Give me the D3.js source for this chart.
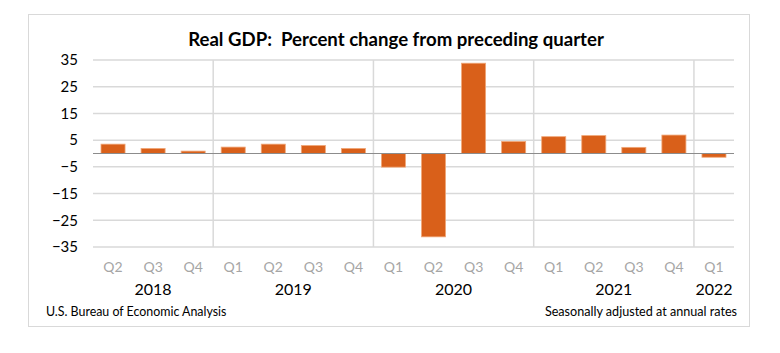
<!DOCTYPE html>
<html>
<head>
<meta charset="utf-8">
<script src="https://cdn.jsdelivr.net/npm/d3@7"></script>
<style>
  body { margin: 0; background: #fff; }
  svg { display: block; font-family: Lato, "Open Sans", sans-serif; }
</style>
</head>
<body>
<div id="chart"></div>
<script>
// Quarterly data
const quarters = ["Q2", "Q3", "Q4", "Q1", "Q2", "Q3", "Q4", "Q1", "Q2", "Q3", "Q4", "Q1", "Q2", "Q3", "Q4", "Q1"];
const years = ["2018", "2018", "2018", "2019", "2019", "2019", "2019", "2020", "2020", "2020", "2020", "2021", "2021", "2021", "2021", "2022"];
const growth = [3.5, 1.9, 0.9, 2.4, 3.5, 3.0, 1.9, -5.1, -31.2, 33.8, 4.5, 6.3, 6.7, 2.3, 6.9, -1.4];
const yTicks = [-35, -25, -15, -5, 5, 15, 25, 35];

const width = 780;
const height = 353;
const plot = { left: 93, right: 734, top: 60, bottom: 247 };

const svg = d3.select("#chart").append("svg")
  .attr("width", width)
  .attr("height", height);

svg.append("rect")
  .attr("x", 28.5).attr("y", 14.5)
  .attr("width", 721).attr("height", 312)
  .attr("fill", "#fff")
  .attr("stroke", "#d9d9d9");

svg.append("text")
  .attr("x", 396).attr("y", 46)
  .attr("text-anchor", "middle")
  .attr("font-weight", "bold")
  .attr("font-size", 18.6)
  .attr("fill", "#000")
  .text("Real GDP:  Percent change from preceding quarter")
  .style("white-space", "pre");

const idx = d3.range(growth.length);
const x = d3.scaleBand().domain(idx).range([plot.left, plot.right]);
const y = d3.scaleLinear().domain([-35, 35]).range([plot.bottom, plot.top]);

// horizontal gridlines
svg.append("g")
  .selectAll("line")
  .data(yTicks)
  .join("line")
  .attr("x1", plot.left).attr("x2", plot.right)
  .attr("y1", d => y(d)).attr("y2", d => y(d))
  .attr("stroke", "#d9d9d9")
  .attr("stroke-width", 1.5);

// year separators
const yearStarts = idx.filter(i => i > 0 && years[i] !== years[i - 1]);
svg.append("g")
  .selectAll("line")
  .data(yearStarts)
  .join("line")
  .attr("x1", d => x(d)).attr("x2", d => x(d))
  .attr("y1", plot.top).attr("y2", plot.bottom)
  .attr("stroke", "#d9d9d9")
  .attr("stroke-width", 1.5);

// y axis labels
const yAxis = svg.append("g")
  .attr("transform", `translate(${plot.left - 15},0)`)
  .call(d3.axisLeft(y).tickValues(yTicks).tickSize(0).tickPadding(0));
yAxis.select(".domain").remove();
yAxis.selectAll("text")
  .attr("font-family", "Lato, sans-serif")
  .attr("font-size", 15)
  .attr("fill", "#000");

// bars
const barW = x.bandwidth() * 0.6;
svg.append("g")
  .selectAll("rect")
  .data(idx)
  .join("rect")
  .attr("x", i => x(i) + (x.bandwidth() - barW) / 2)
  .attr("y", i => y(Math.max(0, growth[i])))
  .attr("width", barW)
  .attr("height", i => Math.abs(y(growth[i]) - y(0)))
  .attr("fill", "#d9601a")
  .attr("stroke", "#f0a778")
  .attr("stroke-width", 0.8);

// zero line
svg.append("line")
  .attr("x1", plot.left).attr("x2", plot.right)
  .attr("y1", y(0)).attr("y2", y(0))
  .attr("stroke", "#8c8c8c")
  .attr("stroke-width", 1.2);

// quarter labels
svg.append("g")
  .selectAll("text")
  .data(idx)
  .join("text")
  .attr("x", i => x(i) + x.bandwidth() / 2)
  .attr("y", 272)
  .attr("text-anchor", "middle")
  .attr("font-size", 14)
  .attr("fill", "#a6a6a6")
  .text(i => quarters[i]);

// year labels centred on their quarters
const yearGroups = d3.groups(idx, i => years[i]);
svg.append("g")
  .selectAll("text")
  .data(yearGroups)
  .join("text")
  .attr("x", ([, is]) => (x(is[0]) + x(is[is.length - 1]) + x.bandwidth()) / 2)
  .attr("y", 295)
  .attr("text-anchor", "middle")
  .attr("font-size", 16)
  .attr("fill", "#000")
  .text(([yr]) => yr);

svg.append("text")
  .attr("x", 46).attr("y", 316)
  .attr("font-size", 12.4)
  .attr("fill", "#000")
  .text("U.S. Bureau of Economic Analysis");

svg.append("text")
  .attr("x", 737).attr("y", 316)
  .attr("text-anchor", "end")
  .attr("font-size", 12.6)
  .attr("fill", "#000")
  .text("Seasonally adjusted at annual rates");
</script>
</body>
</html>
